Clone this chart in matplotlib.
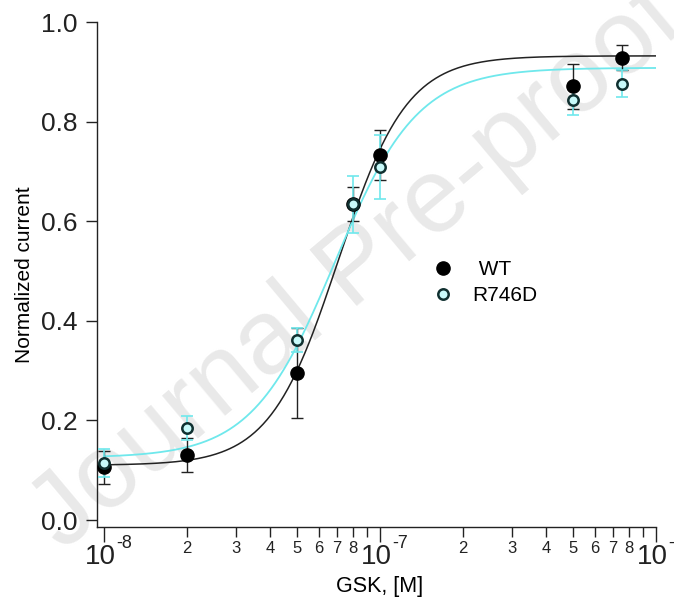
"""
GSK dose-response: WT vs R746D
"""

import numpy as np
import matplotlib
matplotlib.use('Agg')
import matplotlib.pyplot as plt
import matplotlib.transforms as mtransforms
from matplotlib.ticker import LogLocator, FuncFormatter, NullFormatter

plt.rcParams['font.family'] = ['Liberation Sans', 'DejaVu Sans']

# concentrations (M)
conc = [1e-8, 2e-8, 5e-8, 8e-8, 1e-7, 5e-7, 7.5e-7]

# WT
wt_mean = [0.106, 0.130, 0.295, 0.635, 0.733, 0.871, 0.928]
wt_err = [0.033, 0.034, 0.090, 0.034, 0.050, 0.045, 0.025]

# R746D
mut_mean = [0.114, 0.185, 0.361, 0.634, 0.709, 0.843, 0.876]
mut_err = [0.028, 0.024, 0.024, 0.057, 0.064, 0.030, 0.027]

# Hill fit parameters (base, top, EC50, n)
wt_fit = [0.110, 0.932, 7.06e-8, 3.5]
mut_fit = [0.125, 0.908, 6.85e-8, 2.9]

decades = [-8, -7, -6]

cyan = '#6fe8ec'
dark = '#222222'


def hill(x, base, top, ec50, n):
    return base + (top - base) / (1.0 + (ec50 / x) ** n)


fig = plt.figure(figsize=(6.74, 5.98), dpi=100)
ax = fig.add_axes([97 / 674, 71 / 598, (656 - 97) / 674, (527 - 22) / 598])

# watermark, behind everything in the axes
ax.text(0.53, 0.55, 'Journal Pre-proof', transform=fig.transFigure,
        fontsize=76, color='#e9e9e9', rotation=40, ha='center', va='center',
        zorder=0.5, clip_on=False)

xs = np.logspace(-8, -6, 400)
ax.plot(xs, hill(xs, *wt_fit), color=dark, lw=1.1, zorder=2)
ax.plot(xs, hill(xs, *mut_fit), color=cyan, lw=1.3, zorder=2)

ax.errorbar(conc, wt_mean, yerr=wt_err, fmt='none', ecolor=dark,
            elinewidth=1.0, capsize=4.5, capthick=1.0, zorder=3)
ax.errorbar(conc, mut_mean, yerr=mut_err, fmt='none', ecolor=cyan,
            elinewidth=1.2, capsize=4.5, capthick=1.2, zorder=3)
h1, = ax.plot(conc, wt_mean, 'o', ms=9.5, mfc='black', mec='black',
              ls='none', zorder=4, label=' WT')
h2, = ax.plot(conc, mut_mean, 'o', ms=7.5, mfc='#c8fafa', mec='#103030',
              mew=1.8, ls='none', zorder=5, label='R746D')

ax.set_xscale('log')
ax.set_xlim(10 ** -8.025, 1e-6)
ax.set_ylim(-0.014, 1.0)

ax.set_yticks([0.0, 0.2, 0.4, 0.6, 0.8, 1.0])
ax.set_yticklabels(['0.0', '0.2', '0.4', '0.6', '0.8', '1.0'])

ax.xaxis.set_major_locator(LogLocator(base=10, numticks=10))
ax.xaxis.set_minor_locator(LogLocator(base=10, subs=np.arange(2, 10), numticks=20))
ax.xaxis.set_major_formatter(NullFormatter())


def minor_fmt(v, p):
    d = int(round(v / 10 ** np.floor(np.log10(v) + 1e-9)))
    return '' if d == 9 else str(d)


ax.xaxis.set_minor_formatter(FuncFormatter(minor_fmt))

# decade labels: "10" with a raised exponent, Igor style
trans = mtransforms.blended_transform_factory(ax.transData, ax.transAxes)
base_off = mtransforms.offset_copy(trans, fig=fig, x=-4, y=-2, units='dots')
sup_off = mtransforms.offset_copy(trans, fig=fig, x=12, y=11, units='dots')
for d in decades:
    ax.text(10.0 ** d, -0.055, '10', transform=base_off, fontsize=20,
            ha='center', va='center', color=dark, clip_on=False)
    ax.text(10.0 ** d, -0.055, str(d), transform=sup_off, fontsize=13,
            ha='left', va='center', color=dark, clip_on=False)

for s in ['top', 'right']:
    ax.spines[s].set_visible(False)
for s in ['left', 'bottom']:
    ax.spines[s].set_linewidth(1.0)
    ax.spines[s].set_color(dark)

ax.tick_params(axis='y', which='major', direction='out', length=8, width=1,
               labelsize=19, pad=6, colors=dark)
ax.tick_params(axis='x', which='major', direction='out', length=11, width=1,
               colors=dark)
ax.tick_params(axis='x', which='minor', direction='out', length=7, width=1,
               labelsize=12, pad=3, colors=dark)

ax.set_ylabel('Normalized current', fontsize=15, labelpad=5)
ax.set_xlabel('GSK, [M]', fontsize=15.5)
ax.xaxis.set_label_coords(0.505, -0.097)
ax.xaxis.label.set_va('top')

ax.legend(handles=[h1, h2], loc='upper left', bbox_to_anchor=(0.59, 0.545),
          frameon=False, fontsize=15, handlelength=0.8, handletextpad=1.0,
          labelspacing=0.35, borderaxespad=0)

plt.savefig('out.png', dpi=100)
